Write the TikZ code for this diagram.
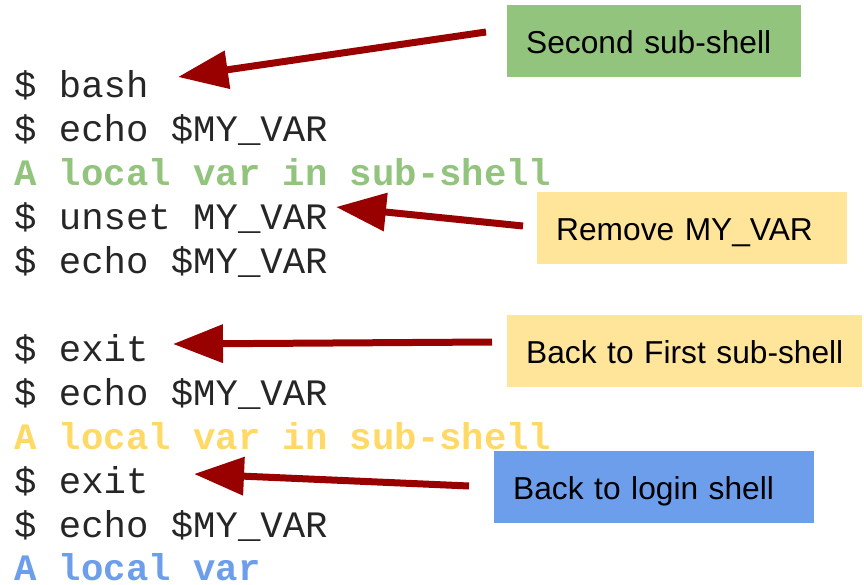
\documentclass[tikz,border=0pt]{standalone}
\usepackage{fontspec}
\setmainfont{Liberation Sans}
\newfontfamily\monofont{Liberation Mono}
\usetikzlibrary{arrows.meta}
\definecolor{cgreen}{HTML}{93C47D}
\definecolor{cyellow}{HTML}{FFE599}
\definecolor{cyeltext}{HTML}{FFD966}
\definecolor{cblue}{HTML}{6D9EEB}
\definecolor{cred}{HTML}{990000}
\begin{document}
\begin{tikzpicture}[x=1pt,y=-1pt,
  cmdtxt/.style={anchor=base west, inner sep=0pt, text=black!85, font=\monofont\fontsize{37.3}{44}\selectfont},
  outtxt/.style={anchor=base west, inner sep=0pt, font=\monofont\bfseries\fontsize{37.3}{44}\selectfont},
  notebox/.style={anchor=north west, inner xsep=0pt, inner ysep=0pt, minimum height=72pt,
    text height=25pt, text depth=0pt, align=left, font=\fontsize{31.7}{38}\selectfont},
  arr/.style={draw=cred, fill=cred, line width=7pt, -{Triangle[length=50pt,width=37pt]}}]
\useasboundingbox (0,0) rectangle (864,585);
% terminal lines
\node[cmdtxt] (l0) at (14,98) {\$ bash};
\node[cmdtxt] (l1) at (14,141.9) {\$ echo \$MY\_VAR};
\node[outtxt, text=cgreen] (l2) at (14,185.8) {A local var in sub-shell};
\node[cmdtxt] (l3) at (14,229.7) {\$ unset MY\_VAR};
\node[cmdtxt] (l4) at (14,273.6) {\$ echo \$MY\_VAR};
\node[cmdtxt] (l6) at (14,361.4) {\$ exit};
\node[cmdtxt] (l7) at (14,405.3) {\$ echo \$MY\_VAR};
\node[outtxt, text=cyeltext] (l8) at (14,449.2) {A local var in sub-shell};
\node[cmdtxt] (l9) at (14,493.1) {\$ exit};
\node[cmdtxt] (l10) at (14,537) {\$ echo \$MY\_VAR};
\node[outtxt, text=cblue] (l11) at (14,580.9) {A local var};
% note boxes
\node[notebox, fill=cgreen, text width=294pt] (b1) at (507,5) {\hspace*{19pt}Second sub-shell};
\node[notebox, fill=cyellow, text width=310pt] (b2) at (537,192) {\hspace*{19pt}Remove MY\_VAR};
\node[notebox, fill=cyellow, text width=355pt] (b3) at (507,315) {\hspace*{19pt}Back to First sub-shell};
\node[notebox, fill=cblue, text width=320pt] (b4) at (494,451) {\hspace*{19pt}Back to login shell};
% arrow ends
\coordinate (s1) at (486,32);  \coordinate (e1) at (178,77);
\coordinate (s2) at (523,226); \coordinate (e2) at (336,207);
\coordinate (s3) at (492,342); \coordinate (e3) at (173,344);
\coordinate (s4) at (469,486); \coordinate (e4) at (194,474);
\draw[arr] (s1) -- (e1);
\draw[arr] (s2) -- (e2);
\draw[arr] (s3) -- (e3);
\draw[arr] (s4) -- (e4);
\end{tikzpicture}
\end{document}
